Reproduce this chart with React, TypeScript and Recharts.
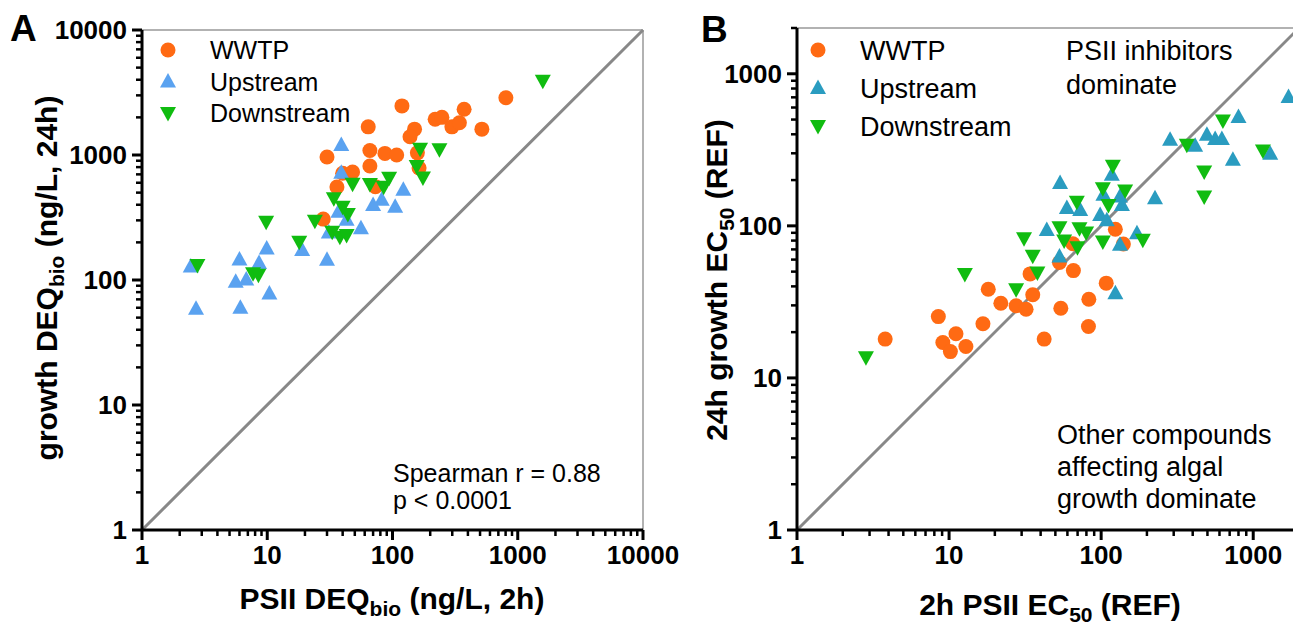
/* ── Two log-log scatter panels: DEQbio comparison (A) and EC50 comparison (B) ── */

import {
  ScatterChart,
  Scatter,
  XAxis,
  YAxis,
  ReferenceLine,
  Legend,
} from "recharts";

// Panel A: [PSII DEQbio (2h), growth DEQbio (24h)] in ng/L
const A_WWTP: [number, number][] = [
  [119, 2470], [64, 1680], [150, 1610], [138, 1400], [219, 1930], [248, 2000],
  [298, 1680], [342, 1810], [373, 2320], [517, 1610], [804, 2870], [30, 964],
  [66, 1087], [87, 1030], [108, 1000], [158, 1040], [66, 817], [163, 787],
  [40, 714], [48, 731], [36, 555], [73, 558], [28, 307],
];
const A_UPSTREAM: [number, number][] = [
  [39, 1200], [39, 722], [37, 352], [43, 304], [122, 528], [82, 439],
  [70, 398], [105, 386], [56, 259], [31, 240], [19, 174], [9.9, 179],
  [30, 145], [6, 146], [8.6, 137], [2.45, 128], [5.6, 97], [6.8, 101],
  [10.4, 78], [2.7, 59], [6.1, 60],
];
const A_DOWNSTREAM: [number, number][] = [
  [1585, 3930], [166, 1120], [237, 1110], [156, 817], [175, 661], [48, 589],
  [66, 586], [85, 558], [94, 657], [34, 450], [40, 386], [44, 337],
  [24, 298], [33, 243], [38, 222], [43, 229], [9.8, 293], [18, 202],
  [2.77, 132], [7.7, 113], [8.5, 110],
];

// Panel B: [2h PSII EC50, 24h growth EC50] (REF)
const B_WWTP: [number, number][] = [
  [3.8, 18], [8.5, 25.3], [9.1, 17.1], [11.1, 19.5], [10.2, 14.9], [12.9, 16.1],
  [16.7, 22.7], [18.1, 38.3], [21.9, 31], [27.6, 29.8], [32.1, 28.3], [35.5, 35.2],
  [34.1, 48.3], [42.2, 18], [53.2, 57.4], [54.3, 28.7], [65.7, 50.8], [65.2, 76.2],
  [83, 32.9], [82.5, 21.8], [108, 42], [124, 95], [140, 76],
];
const B_UPSTREAM: [number, number][] = [
  [53.7, 191], [59.5, 131], [72.8, 127], [98.5, 118], [43.9, 94], [103.5, 160],
  [117.5, 217], [133, 156], [137, 137], [109, 109], [172, 89.5], [133, 75],
  [53.2, 62.8], [124, 36], [226, 152], [284, 368], [415, 336], [496, 397],
  [562, 372], [622, 372], [800, 519], [735, 272], [1294, 298], [1707, 703],
];
const B_DOWNSTREAM: [number, number][] = [
  [2.84, 13.7], [12.7, 48.3], [27.6, 38.3], [31.1, 83], [35.5, 63.5], [38.1, 49.3],
  [53.2, 98], [57.1, 80], [69.2, 144], [69.9, 72.4], [72, 96.6], [79.7, 90.3],
  [102.6, 78.8], [102.6, 177], [111.7, 137], [119.4, 248], [143.8, 171], [188, 81],
  [366, 341], [476, 228], [476, 156], [632, 493], [1158, 313],
];

const SERIES_NAMES = ["WWTP", "Upstream", "Downstream"];

const A_MAJOR = [1, 10, 100, 1000, 10000];
const B_MAJOR = [1, 10, 100, 1000];
const A_MAX = 10000;
const B_MAX = 2000;

const FONT = "'Liberation Sans', Arial, Helvetica, sans-serif";
const ORANGE = "#FF6A13";
const BLUE_A = "#5AA2F0";
const TEAL_B = "#2A9CC0";
const GREEN = "#10BC10";

// 2..9 per decade, up to max
function minorTicks(max: number): number[] {
  const out: number[] = [];
  for (let dec = 1; dec < max; dec *= 10) {
    for (let k = 2; k <= 9; k++) {
      if (k * dec <= max) out.push(k * dec);
    }
  }
  return out;
}

const toPoints = (arr: [number, number][]) => arr.map(([x, y]) => ({ x, y }));

type Marker = "circle" | "up" | "down";

function drawMarker(kind: Marker, cx: number, cy: number, fill: string) {
  if (kind === "circle") return <circle cx={cx} cy={cy} r={7.5} fill={fill} />;
  if (kind === "up")
    return <polygon points={`${cx},${cy - 8.5} ${cx - 8},${cy + 6} ${cx + 8},${cy + 6}`} fill={fill} />;
  return <polygon points={`${cx},${cy + 8.5} ${cx - 8},${cy - 6} ${cx + 8},${cy - 6}`} fill={fill} />;
}

const shapeFor = (kind: Marker, fill: string) => (p: any) => drawMarker(kind, p.cx, p.cy, fill);

function makeTick(orient: "bottom" | "left", majors: number[]) {
  return (props: any) => {
    const { x, y, payload } = props;
    const v = payload.value;
    const major = majors.includes(v);
    const len = major ? 10 : 6;
    if (orient === "bottom") {
      return (
        <g>
          <line x1={x} x2={x} y1={y} y2={y + len} stroke="#000" strokeWidth={major ? 3 : 2.5} />
          {major && (
            <text x={x} y={y + 34} textAnchor="middle" fontSize={26} fontWeight="bold" fontFamily={FONT} fill="#000">
              {v}
            </text>
          )}
        </g>
      );
    }
    return (
      <g>
        <line x1={x - len} x2={x} y1={y} y2={y} stroke="#000" strokeWidth={major ? 3 : 2.5} />
        {major && (
          <text x={x - 15} y={y + 9} textAnchor="end" fontSize={26} fontWeight="bold" fontFamily={FONT} fill="#000">
            {v}
          </text>
        )}
      </g>
    );
  };
}

function LegendBox({ colors, spacing, fontSize }: { colors: string[]; spacing: number; fontSize: number }) {
  const kinds: Marker[] = ["circle", "up", "down"];
  return (
    <svg width={260} height={120} style={{ overflow: "visible" }}>
      {SERIES_NAMES.map((name, i) => (
        <g key={name}>
          {drawMarker(kinds[i], 13, 17 + i * spacing, colors[i])}
          <text x={55} y={17 + i * spacing + fontSize * 0.36} fontSize={fontSize} fontFamily={FONT} fill="#000">
            {name}
          </text>
        </g>
      ))}
    </svg>
  );
}

function SubLabel(props: {
  x: number;
  y: number;
  rotate?: boolean;
  before: string;
  sub: string;
  after: string;
}) {
  const { x, y, rotate, before, sub, after } = props;
  return (
    <text
      x={x}
      y={y}
      textAnchor="middle"
      fontSize={30}
      fontWeight="bold"
      fontFamily={FONT}
      fill="#000"
      transform={rotate ? `rotate(-90, ${x}, ${y})` : undefined}
    >
      <tspan>{before}</tspan>
      <tspan fontSize={21} dy={7}>{sub}</tspan>
      <tspan dy={-7}>{after}</tspan>
    </text>
  );
}

const txt = { fontFamily: FONT, fill: "#000" };

export default function App() {
  return (
    <div
      style={{
        position: "fixed",
        left: 0,
        top: 0,
        width: 1293,
        height: 625,
        background: "#fff",
        overflow: "hidden",
        fontFamily: FONT,
      }}
    >
      {/* Panel A */}
      <div style={{ position: "absolute", left: 0, top: 0 }}>
        <ScatterChart width={700} height={625} margin={{ top: 30, right: 57, bottom: 0, left: 42 }}>
          <XAxis
            type="number"
            dataKey="x"
            scale="log"
            domain={[1, A_MAX]}
            allowDataOverflow
            ticks={[...A_MAJOR, ...minorTicks(A_MAX)]}
            interval={0}
            tickSize={0}
            tickMargin={0}
            tickLine={false}
            tick={makeTick("bottom", A_MAJOR)}
            axisLine={{ stroke: "#000", strokeWidth: 3 }}
            height={95}
            label={() => (
              <SubLabel x={392} y={609} before="PSII DEQ" sub="bio" after=" (ng/L, 2h)" />
            )}
          />
          <YAxis
            type="number"
            dataKey="y"
            scale="log"
            domain={[1, A_MAX]}
            allowDataOverflow
            ticks={[...A_MAJOR, ...minorTicks(A_MAX)]}
            interval={0}
            tickSize={0}
            tickMargin={0}
            tickLine={false}
            tick={makeTick("left", A_MAJOR)}
            axisLine={{ stroke: "#000", strokeWidth: 3 }}
            width={100}
            label={() => (
              <SubLabel x={57} y={278} rotate before="growth DEQ" sub="bio" after=" (ng/L, 24h)" />
            )}
          />
          <ReferenceLine y={A_MAX} stroke="#999" strokeWidth={1.5} />
          <ReferenceLine x={A_MAX} stroke="#999" strokeWidth={1.5} />
          <ReferenceLine
            segment={[{ x: 1, y: 1 }, { x: A_MAX, y: A_MAX }]}
            stroke="#888"
            strokeWidth={3}
          />
          <Legend
            layout="vertical"
            align="center"
            verticalAlign="middle"
            wrapperStyle={{ left: 155, top: 33, width: 260, height: 110 }}
            content={() => <LegendBox colors={[ORANGE, BLUE_A, GREEN]} spacing={31.5} fontSize={25} />}
          />
          <Scatter name="WWTP" data={toPoints(A_WWTP)} fill={ORANGE} shape={shapeFor("circle", ORANGE)} isAnimationActive={false} />
          <Scatter name="Upstream" data={toPoints(A_UPSTREAM)} fill={BLUE_A} shape={shapeFor("up", BLUE_A)} isAnimationActive={false} />
          <Scatter name="Downstream" data={toPoints(A_DOWNSTREAM)} fill={GREEN} shape={shapeFor("down", GREEN)} isAnimationActive={false} />
        </ScatterChart>
      </div>

      {/* Panel B */}
      <div style={{ position: "absolute", left: 660, top: 0 }}>
        <ScatterChart width={700} height={625} margin={{ top: 28, right: 61, bottom: 0, left: 37 }}>
          <XAxis
            type="number"
            dataKey="x"
            scale="log"
            domain={[1, B_MAX]}
            allowDataOverflow
            ticks={[...B_MAJOR, ...minorTicks(B_MAX)]}
            interval={0}
            tickSize={0}
            tickMargin={0}
            tickLine={false}
            tick={makeTick("bottom", B_MAJOR)}
            axisLine={{ stroke: "#000", strokeWidth: 3 }}
            height={95}
            label={() => <SubLabel x={390} y={615} before="2h PSII EC" sub="50" after=" (REF)" />}
          />
          <YAxis
            type="number"
            dataKey="y"
            scale="log"
            domain={[1, B_MAX]}
            allowDataOverflow
            ticks={[...B_MAJOR, ...minorTicks(B_MAX)]}
            interval={0}
            tickSize={0}
            tickMargin={0}
            tickLine={false}
            tick={makeTick("left", B_MAJOR)}
            axisLine={{ stroke: "#000", strokeWidth: 3 }}
            width={100}
            label={() => <SubLabel x={67} y={280} rotate before="24h growth EC" sub="50" after=" (REF)" />}
          />
          <ReferenceLine y={B_MAX} stroke="#999" strokeWidth={1.5} />
          <ReferenceLine x={B_MAX} stroke="#999" strokeWidth={1.5} />
          <ReferenceLine
            segment={[{ x: 1, y: 1 }, { x: B_MAX, y: B_MAX }]}
            stroke="#888"
            strokeWidth={3}
          />
          <Legend
            layout="vertical"
            align="center"
            verticalAlign="middle"
            wrapperStyle={{ left: 145, top: 33, width: 260, height: 120 }}
            content={() => <LegendBox colors={[ORANGE, TEAL_B, GREEN]} spacing={38} fontSize={27} />}
          />
          <Scatter name="WWTP" data={toPoints(B_WWTP)} fill={ORANGE} shape={shapeFor("circle", ORANGE)} isAnimationActive={false} />
          <Scatter name="Upstream" data={toPoints(B_UPSTREAM)} fill={TEAL_B} shape={shapeFor("up", TEAL_B)} isAnimationActive={false} />
          <Scatter name="Downstream" data={toPoints(B_DOWNSTREAM)} fill={GREEN} shape={shapeFor("down", GREEN)} isAnimationActive={false} />
        </ScatterChart>
      </div>

      {/* Panel letters and annotations */}
      <svg width={1293} height={625} style={{ position: "absolute", left: 0, top: 0, pointerEvents: "none" }}>
        <text x={10} y={41} fontSize={37} fontWeight="bold" {...txt}>A</text>
        <text x={701} y={42} fontSize={37} fontWeight="bold" {...txt}>B</text>
        <text x={393} y={482} fontSize={25} {...txt}>Spearman r = 0.88</text>
        <text x={393} y={509} fontSize={25} {...txt}>p &lt; 0.0001</text>
        <text x={1066} y={60} fontSize={27} {...txt}>PSII inhibitors</text>
        <text x={1066} y={94} fontSize={27} {...txt}>dominate</text>
        <text x={1057} y={444} fontSize={27} {...txt}>Other compounds</text>
        <text x={1057} y={476} fontSize={27} {...txt}>affecting algal</text>
        <text x={1057} y={508} fontSize={27} {...txt}>growth dominate</text>
      </svg>
    </div>
  );
}
